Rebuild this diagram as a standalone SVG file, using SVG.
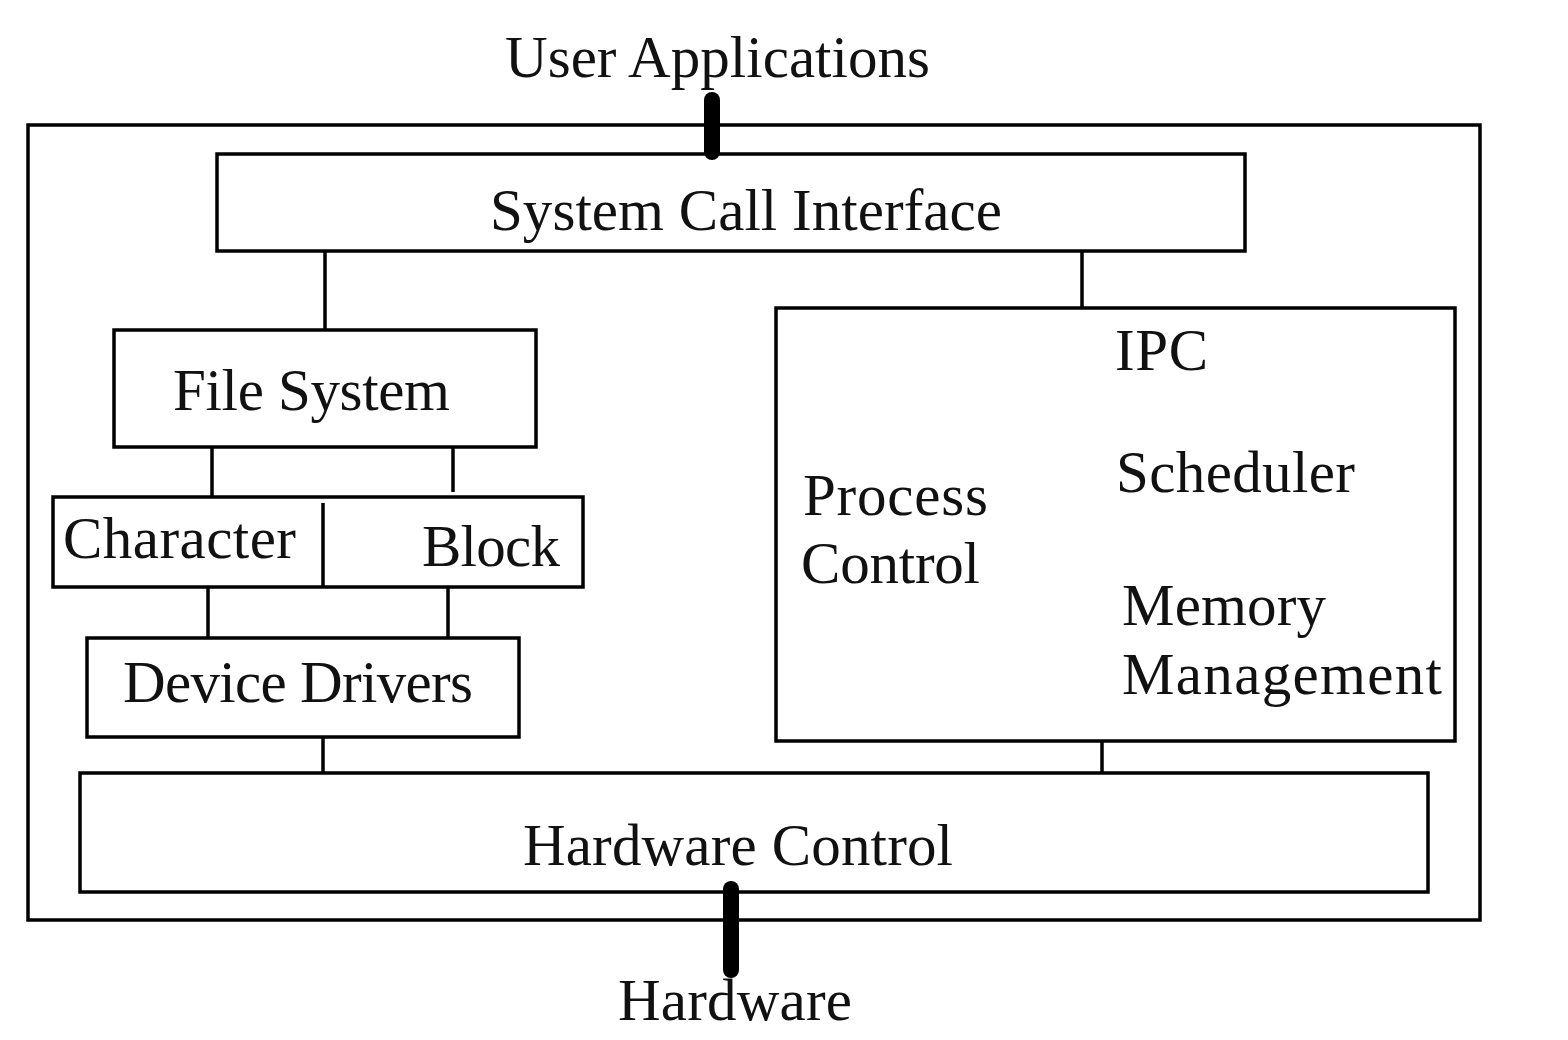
<svg xmlns="http://www.w3.org/2000/svg" width="1568" height="1040" viewBox="0 0 1568 1040">
<style>
rect.box{fill:none;stroke:#000;stroke-width:3.5}
.c line{stroke:#000;stroke-width:3.5}
.c line.bar{stroke:#000;stroke-width:16;stroke-linecap:round}
text{font-family:"Liberation Serif","Times New Roman",serif;font-size:59px;fill:#111}
</style>
<rect width="1568" height="1040" fill="#fff"/>
<g id="kernel"><rect class="box" x="28" y="125" width="1452" height="795"/></g>
<g id="sci"><rect class="box" x="217" y="154" width="1028" height="97"/><text x="490" y="230" textLength="512">System Call Interface</text></g>
<g id="fs"><rect class="box" x="114" y="330" width="422" height="117"/><text x="173" y="410" textLength="277">File System</text></g>
<g id="charblock"><rect class="box" x="53" y="497" width="530" height="90"/><line x1="323" y1="503" x2="323" y2="587" stroke="#000" stroke-width="3.5"/><text x="63" y="558" textLength="233">Character</text><text x="422" y="566" textLength="138">Block</text></g>
<g id="dd"><rect class="box" x="87" y="638" width="432" height="99"/><text x="123" y="702" textLength="350">Device Drivers</text></g>
<g id="proc"><rect class="box" x="776" y="308" width="679" height="433"/>
<text x="1115" y="370" textLength="93">IPC</text>
<text x="1116" y="492" textLength="239">Scheduler</text>
<text x="803" y="515" textLength="185">Process</text>
<text x="801" y="583" textLength="179">Control</text>
<text x="1122" y="625" textLength="204">Memory</text>
<text x="1122" y="694" textLength="320">Management</text></g>
<g id="hc"><rect class="box" x="80" y="773" width="1348" height="119"/><text x="523" y="865" textLength="430">Hardware Control</text></g>
<g id="ua"><text x="505" y="77" textLength="425">User Applications</text></g>
<g id="hw"><text x="618" y="1020" textLength="234">Hardware</text></g>
<g class="c" id="connectors">
<line x1="325" y1="251" x2="325" y2="330"/>
<line x1="1082" y1="251" x2="1082" y2="308"/>
<line x1="212" y1="447" x2="212" y2="497"/>
<line x1="453" y1="447" x2="453" y2="492"/>
<line x1="208" y1="587" x2="208" y2="638"/>
<line x1="448" y1="587" x2="448" y2="638"/>
<line x1="323" y1="737" x2="323" y2="773"/>
<line x1="1102" y1="741" x2="1102" y2="773"/>
<line class="bar" x1="712" y1="100" x2="712" y2="152"/>
<line class="bar" x1="731" y1="889" x2="731" y2="970"/>
</g>
</svg>
